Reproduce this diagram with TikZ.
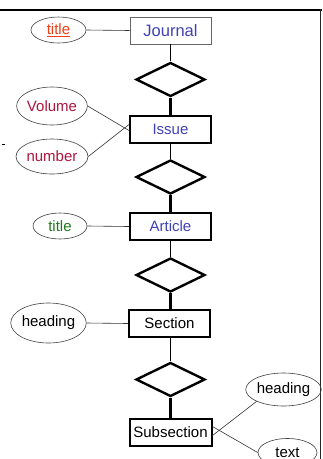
\documentclass[tikz,border=0pt]{standalone}
\usepackage{fontspec}
\setmainfont{Liberation Sans}
\usetikzlibrary{shapes.geometric}
\definecolor{entblue}{HTML}{4040B8}
\definecolor{attred}{HTML}{B0143C}
\definecolor{keyred}{HTML}{F03C14}
\definecolor{attgreen}{HTML}{1E7A1E}
\begin{document}
\begin{tikzpicture}[x=1pt,y=-1pt,
  entity/.style={draw, rectangle, line width=2pt, minimum width=81pt, minimum height=27pt, inner sep=1pt, font=\fontsize{15}{15}\selectfont},
  weakent/.style={draw=gray!80!black, rectangle, line width=0.8pt, minimum width=81pt, minimum height=27pt, inner sep=1pt, font=\fontsize{16.5}{16.5}\selectfont},
  rel/.style={draw, diamond, line width=2.4pt, minimum width=69pt, minimum height=34pt, inner sep=0pt, aspect=2},
  attr/.style={draw=black!75, ellipse, line width=0.6pt, inner sep=0pt, font=\fontsize{15}{15}\selectfont},
  thin/.style={line width=0.8pt},
  thick/.style={line width=3pt},
  attline/.style={line width=0.6pt, draw=black!80}
]
\useasboundingbox (0,0) rectangle (323,459);
% frame
\draw[line width=2pt] (0,10) -- (321.5,10);
\draw[line width=1.4pt, draw=black!85] (320.5,9) -- (320.5,459);
\fill (2,143.5) rectangle (4.5,145);

% entities
\node[weakent, text=entblue] (journal) at (170.5,30.5) {Journal};
\node[rel] (r1) at (170.5,79.5) {};
\node[entity, text=entblue] (issue) at (170.5,129.5) {Issue};
\node[rel] (r2) at (170.5,177) {};
\node[entity, text=entblue] (article) at (170.5,226.5) {Article};
\node[rel] (r3) at (170.5,275) {};
\node[entity] (section) at (169.5,323.5) {Section};
\node[rel] (r4) at (170.5,379.5) {};
\node[entity, minimum width=82pt] (subsection) at (170.5,432.5) {Subsection};

% attributes
\node[attr, minimum width=55pt, minimum height=26pt, text=keyred] (jtitle) at (58.5,30) {\underline{title}};
\node[attr, minimum width=62pt, minimum height=38pt, text=attred] (volume) at (52,106) {Volume};
\node[attr, minimum width=62pt, minimum height=35pt, text=attred] (number) at (52,156.5) {number};
\node[attr, minimum width=54pt, minimum height=26pt, text=attgreen] (atitle) at (60,226) {title};
\node[attr, minimum width=69pt, minimum height=40pt] (sheading) at (48.5,323) {heading};
\node[attr, minimum width=63pt, minimum height=33pt] (ssheading) at (283.5,389.5) {heading};
\node[attr, minimum width=59pt, minimum height=28pt] (sstext) at (287.5,452.5) {text};

% connectors
\draw[thin] (journal.south) -- (r1.north);
\draw[thick] (r1.south) -- (issue.north);
\draw[thin] (issue.south) -- (r2.north);
\draw[thick] (r2.south) -- (article.north);
\draw[thin] (article.south) -- (r3.north);
\draw[thick] (r3.south) -- (r3.south |- section.north);
\draw[thin] (section.south -| r4.north) -- (r4.north);
\draw[thick] (r4.south) -- (subsection.north);

\draw[attline] (jtitle.east) -- (journal.west);
\draw[attline] (volume.east) -- ([yshift=-1pt]issue.west);
\draw[attline] (number.east) -- ([yshift=5pt]issue.west);
\draw[attline] (atitle.east) -- (article.west);
\draw[attline] (sheading.east) -- (section.west);
\draw[attline] (ssheading.south west) -- ([yshift=-3pt]subsection.east);
\draw[attline] (sstext.west) -- ([yshift=6pt]subsection.east);
\end{tikzpicture}
\end{document}
